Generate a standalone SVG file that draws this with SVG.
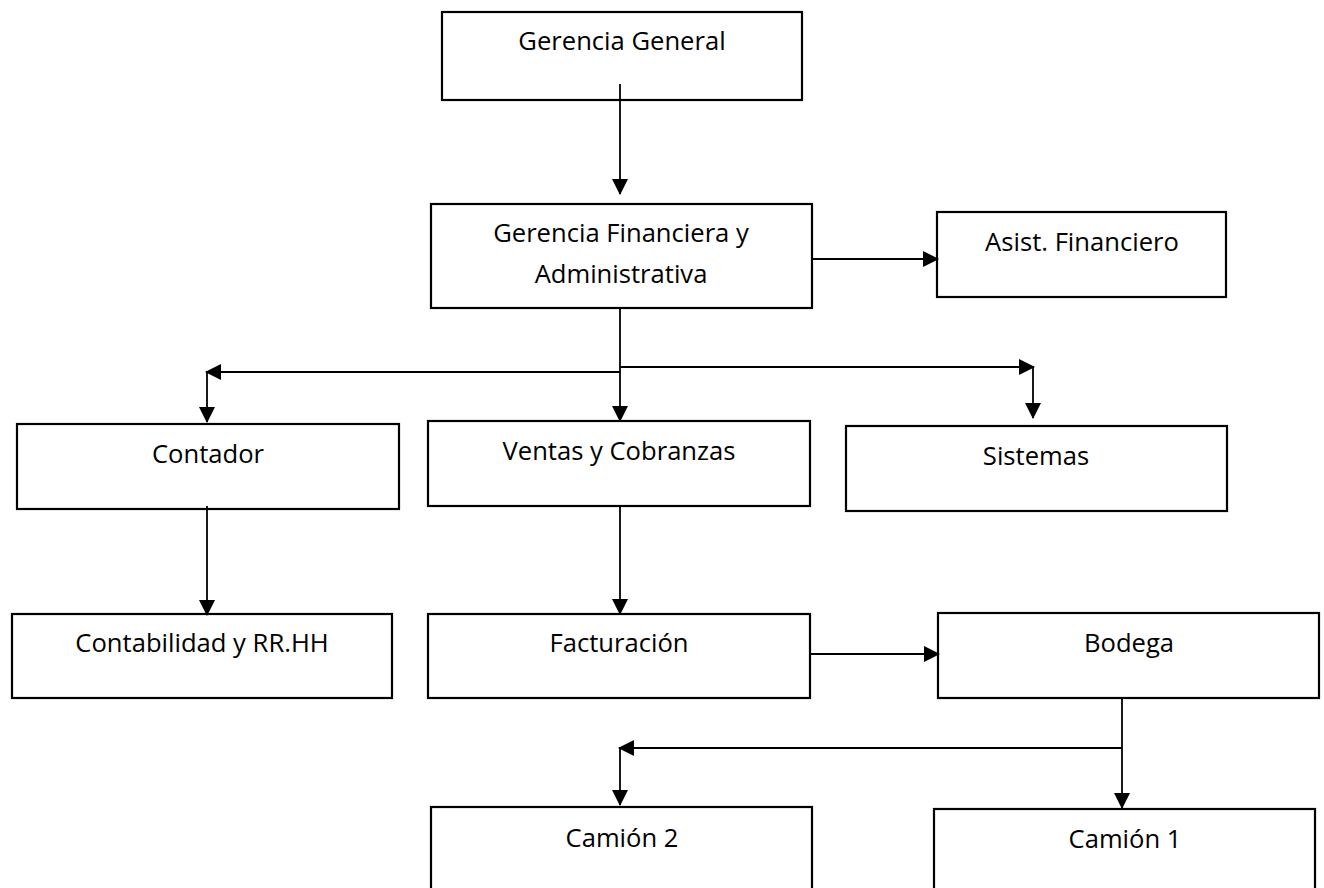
<svg xmlns="http://www.w3.org/2000/svg" width="1324" height="888" viewBox="0 0 1324 888">
<style>
.box{fill:#fff;stroke:#000;stroke-width:2.2}
.lbl{font-family:"Open Sans","Liberation Sans",sans-serif;font-size:25.6px;fill:#000;text-anchor:middle}
.con{fill:none;stroke:#000;stroke-width:1.8}
.arr{marker-end:url(#ah)}
</style>
<defs>
<marker id="ah" markerUnits="userSpaceOnUse" markerWidth="16" markerHeight="16" refX="15" refY="8" orient="auto">
<path d="M0,0 L16,8 L0,16 Z" fill="#000"/>
</marker>
</defs>
<rect width="1324" height="888" fill="#fff"/>
<g id="n-gerencia-general"><rect class="box" x="442" y="12" width="360" height="88"/><text class="lbl" x="622" y="50">Gerencia General</text></g>
<g id="n-gerencia-financiera"><rect class="box" x="431" y="204" width="381" height="104"/><text class="lbl" x="621" y="242">Gerencia Financiera y</text><text class="lbl" x="621" y="283">Administrativa</text></g>
<g id="n-asist"><rect class="box" x="937" y="212" width="289" height="85"/><text class="lbl" x="1082" y="251">Asist. Financiero</text></g>
<g id="n-contador"><rect class="box" x="17" y="424" width="382" height="85"/><text class="lbl" x="208" y="463">Contador</text></g>
<g id="n-ventas"><rect class="box" x="428" y="421" width="382" height="85"/><text class="lbl" x="619" y="460">Ventas y Cobranzas</text></g>
<g id="n-sistemas"><rect class="box" x="846" y="426" width="381" height="85"/><text class="lbl" x="1036" y="465">Sistemas</text></g>
<g id="n-contabilidad"><rect class="box" x="12" y="614" width="380" height="84"/><text class="lbl" x="202" y="652">Contabilidad y RR.HH</text></g>
<g id="n-facturacion"><rect class="box" x="428" y="614" width="382" height="84"/><text class="lbl" x="619" y="652">Facturación</text></g>
<g id="n-bodega"><rect class="box" x="938" y="613" width="381" height="85"/><text class="lbl" x="1129" y="652">Bodega</text></g>
<g id="n-camion2"><rect class="box" x="431" y="807" width="381" height="95"/><text class="lbl" x="622" y="847">Camión 2</text></g>
<g id="n-camion1"><rect class="box" x="934" y="809" width="381" height="95"/><text class="lbl" x="1125" y="848">Camión 1</text></g>
<g id="connectors">
<line class="con arr" x1="620" y1="84" x2="620" y2="194"/>
<line class="con arr" x1="812" y1="259" x2="938" y2="259"/>
<line class="con arr" x1="620" y1="308" x2="620" y2="421"/>
<line class="con arr" x1="620" y1="372" x2="206" y2="372"/>
<line class="con arr" x1="207" y1="372" x2="207" y2="422"/>
<line class="con arr" x1="620" y1="367" x2="1034" y2="367"/>
<line class="con arr" x1="1033" y1="367" x2="1033" y2="418"/>
<line class="con arr" x1="207" y1="506" x2="207" y2="615"/>
<line class="con arr" x1="620" y1="506" x2="620" y2="614"/>
<line class="con arr" x1="810" y1="654" x2="939" y2="654"/>
<line class="con arr" x1="1122" y1="698" x2="1122" y2="808"/>
<line class="con arr" x1="1122" y1="748" x2="619" y2="748"/>
<line class="con arr" x1="620" y1="748" x2="620" y2="805"/>
</g>
</svg>
